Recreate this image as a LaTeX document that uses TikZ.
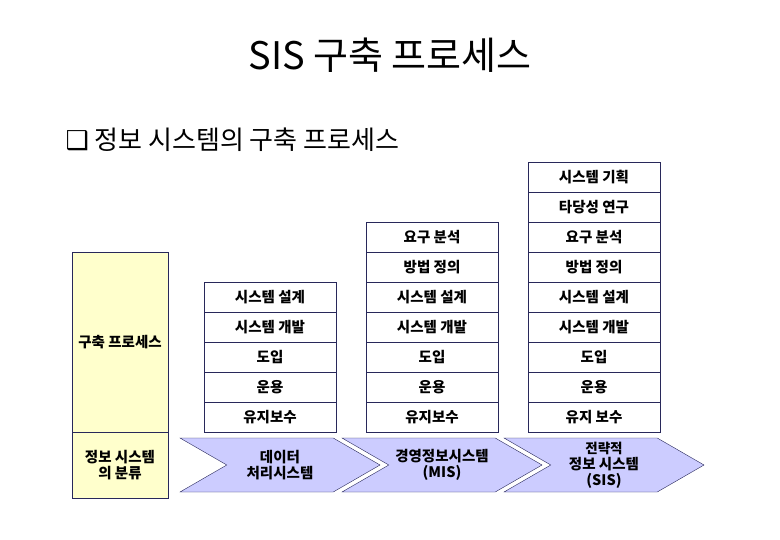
\documentclass[tikz,border=0pt]{standalone}
\usepackage{fontspec}
\setmainfont{Noto Sans CJK KR}
\newfontfamily\symfont{DejaVu Sans}
\usetikzlibrary{positioning, shapes.symbols}
\definecolor{cellborder}{RGB}{40,40,90}
\definecolor{procyellow}{RGB}{255,255,204}
\definecolor{chevfill}{RGB}{204,204,255}

\begin{document}
\begin{tikzpicture}[x=1pt, y=-1pt, thin, every node/.style={font=\bfseries\fontsize{14.5}{16}\selectfont}]
    % Define styles for cells, side boxes and chevrons
    \tikzstyle{cell} = [draw=cellborder, fill=white, rectangle, minimum width=132pt, minimum height=30pt, inner sep=0pt, node distance=30pt]
    \tikzstyle{sidebox} = [draw=cellborder, fill=procyellow, rectangle, minimum width=96pt, inner sep=0pt, align=center]
    \tikzstyle{chevron} = [draw=cellborder, fill=chevfill, shape=signal, signal from=west, signal to=east, signal pointer angle=60, minimum width=200pt, minimum height=54pt, inner sep=0pt, align=center]

    \useasboundingbox (0,0) rectangle (780,540);

    % Titles
    \node (title) at (390,55) {\fontsize{38}{42}\mdseries\selectfont SIS 구축 프로세스};
    \node [anchor=west] (subtitle) at (62,140) {\fontsize{26}{30}\mdseries\selectfont {\symfont ❑} 정보 시스템의 구축 프로세스};

    % Side boxes
    \node [sidebox, minimum height=180pt] (process) at (120,342) {구축 프로세스};
    \node [sidebox, minimum height=66pt] (kind) at (120,465) {정보 시스템\\의 분류};

    % Column for data processing system
    \node [cell] (dpdesign) at (270,297) {시스템 설계};
    \node [cell, below of=dpdesign] (dpdevel) {시스템 개발};
    \node [cell, below of=dpdevel] (dpintro) {도입};
    \node [cell, below of=dpintro] (dpoper) {운용};
    \node [cell, below of=dpoper] (dpmaint) {유지보수};

    % Column for MIS
    \node [cell] (misreq) at (432,237) {요구 분석};
    \node [cell, below of=misreq] (mismethod) {방법 정의};
    \node [cell, below of=mismethod] (misdesign) {시스템 설계};
    \node [cell, below of=misdesign] (misdevel) {시스템 개발};
    \node [cell, below of=misdevel] (misintro) {도입};
    \node [cell, below of=misintro] (misoper) {운용};
    \node [cell, below of=misoper] (mismaint) {유지보수};

    % Column for SIS
    \node [cell] (sisplan) at (594,177) {시스템 기획};
    \node [cell, below of=sisplan] (sisfeas) {타당성 연구};
    \node [cell, below of=sisfeas] (sisreq) {요구 분석};
    \node [cell, below of=sisreq] (sismethod) {방법 정의};
    \node [cell, below of=sismethod] (sisdesign) {시스템 설계};
    \node [cell, below of=sisdesign] (sisdevel) {시스템 개발};
    \node [cell, below of=sisdevel] (sisintro) {도입};
    \node [cell, below of=sisintro] (sisoper) {운용};
    \node [cell, below of=sisoper] (sismaint) {유지 보수};

    % Chevrons for system classes
    \node [chevron] (dpchev) at (280,465) {데이터\\처리시스템};
    \node [chevron] (mischev) at (442,465) {경영정보시스템\\(MIS)};
    \node [chevron] (sischev) at (604,465) {\fontsize{13.5}{15}\selectfont 전략적\\정보 시스템\\(SIS)};
\end{tikzpicture}
\end{document}
